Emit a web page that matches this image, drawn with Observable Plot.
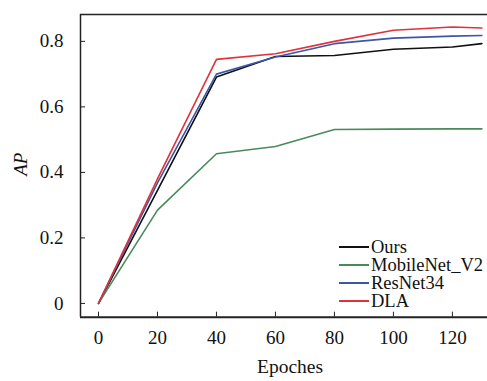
<!DOCTYPE html>
<html><head><meta charset="utf-8">
<script src="https://cdn.jsdelivr.net/npm/d3@7"></script>
<script src="https://cdn.jsdelivr.net/npm/@observablehq/plot@0.6"></script>
<style>
html,body{margin:0;padding:0;background:#fff;}
#wrap{position:relative;width:487px;height:381px;overflow:hidden;}
#wrap svg text{font-family:"Liberation Serif","Times New Roman",Times,serif;}
#legend{position:absolute;left:339px;top:238px;font-family:"Liberation Serif","Times New Roman",Times,serif;font-size:18.5px;line-height:18px;white-space:nowrap;color:#111;}
#legend div{display:flex;align-items:center;height:18px;}
#legend span.sw{display:inline-block;width:30px;height:0;border-top:2px solid;margin-right:2px;}
</style>
</head><body><div id="wrap"><div id="legend"></div></div>
<script>
const epochs = [0, 20, 40, 60, 80, 100, 120, 130];
const seriesNames = ["Ours", "MobileNet_V2", "ResNet34", "DLA"];
const seriesColors = ["#111111", "#4a8a5a", "#3c56a8", "#e0323c"];
const ours      = [0, 0.345, 0.691, 0.754, 0.757, 0.776, 0.783, 0.793];
const mobilenet = [0, 0.285, 0.457, 0.479, 0.531, 0.532, 0.533, 0.533];
const resnet34  = [0, 0.368, 0.700, 0.752, 0.793, 0.810, 0.816, 0.818];
const dla       = [0, 0.380, 0.745, 0.762, 0.800, 0.834, 0.844, 0.841];
const xTicks = [0, 20, 40, 60, 80, 100, 120];
const yTicks = [0, 0.2, 0.4, 0.6, 0.8];
const yTickLabels = ["0", "0.2", "0.4", "0.6", "0.8"];
const xLabel = "Epoches";
const yLabel = "AP";

const allSeries = [ours, mobilenet, resnet34, dla];
const rows = [];
allSeries.forEach((vals, i) => vals.forEach((v, j) => rows.push({epoch: epochs[j], ap: v, name: seriesNames[i]})));

const xDom = [-6.1, 131.9];
const yDom = [-0.042, 0.882];
const font = "'Liberation Serif', 'Times New Roman', Times, serif";

const chart = Plot.plot({
  width: 487, height: 381,
  marginLeft: 80, marginRight: 0, marginTop: 14, marginBottom: 64.3,
  style: {fontFamily: font, fontSize: "19px", color: "#111", background: "#fff"},
  x: {domain: xDom},
  y: {domain: yDom},
  color: {domain: seriesNames, range: seriesColors},
  marks: [
    Plot.ruleY([yDom[1]], {stroke: "#222", strokeWidth: 1.5}),
    Plot.ruleX([xDom[0]], {stroke: "#222", strokeWidth: 1.5}),
    Plot.ruleY([yDom[0]], {stroke: "#222", strokeWidth: 2}),
    Plot.axisX({ticks: xTicks, tickSize: -5, tickPadding: 18, label: null, stroke: "#222", fontSize: 19}),
    Plot.axisY({ticks: yTicks, tickFormat: (d, i) => yTickLabels[i], tickSize: -5, tickPadding: 22, label: null, stroke: "#222", fontSize: 19}),
    Plot.text([xLabel], {frameAnchor: "bottom", dx: 6, dy: 56, text: d => d, fontSize: 19.5, fill: "#111"}),
    Plot.text([yLabel], {frameAnchor: "left", dx: -60, dy: 10, rotate: -90, fontStyle: "italic", fontSize: 19, text: d => d, fill: "#111"}),
    Plot.line(rows, {x: "epoch", y: "ap", z: "name", stroke: "name", strokeWidth: 1.6})
  ]
});
const wrap = document.getElementById("wrap");
wrap.insertBefore(chart, wrap.firstChild);
const lg = document.getElementById("legend");
seriesNames.forEach((n, i) => {
  const d = document.createElement("div");
  d.innerHTML = `<span class="sw" style="border-color:${seriesColors[i]}"></span>${n}`;
  lg.appendChild(d);
});
</script></body></html>
